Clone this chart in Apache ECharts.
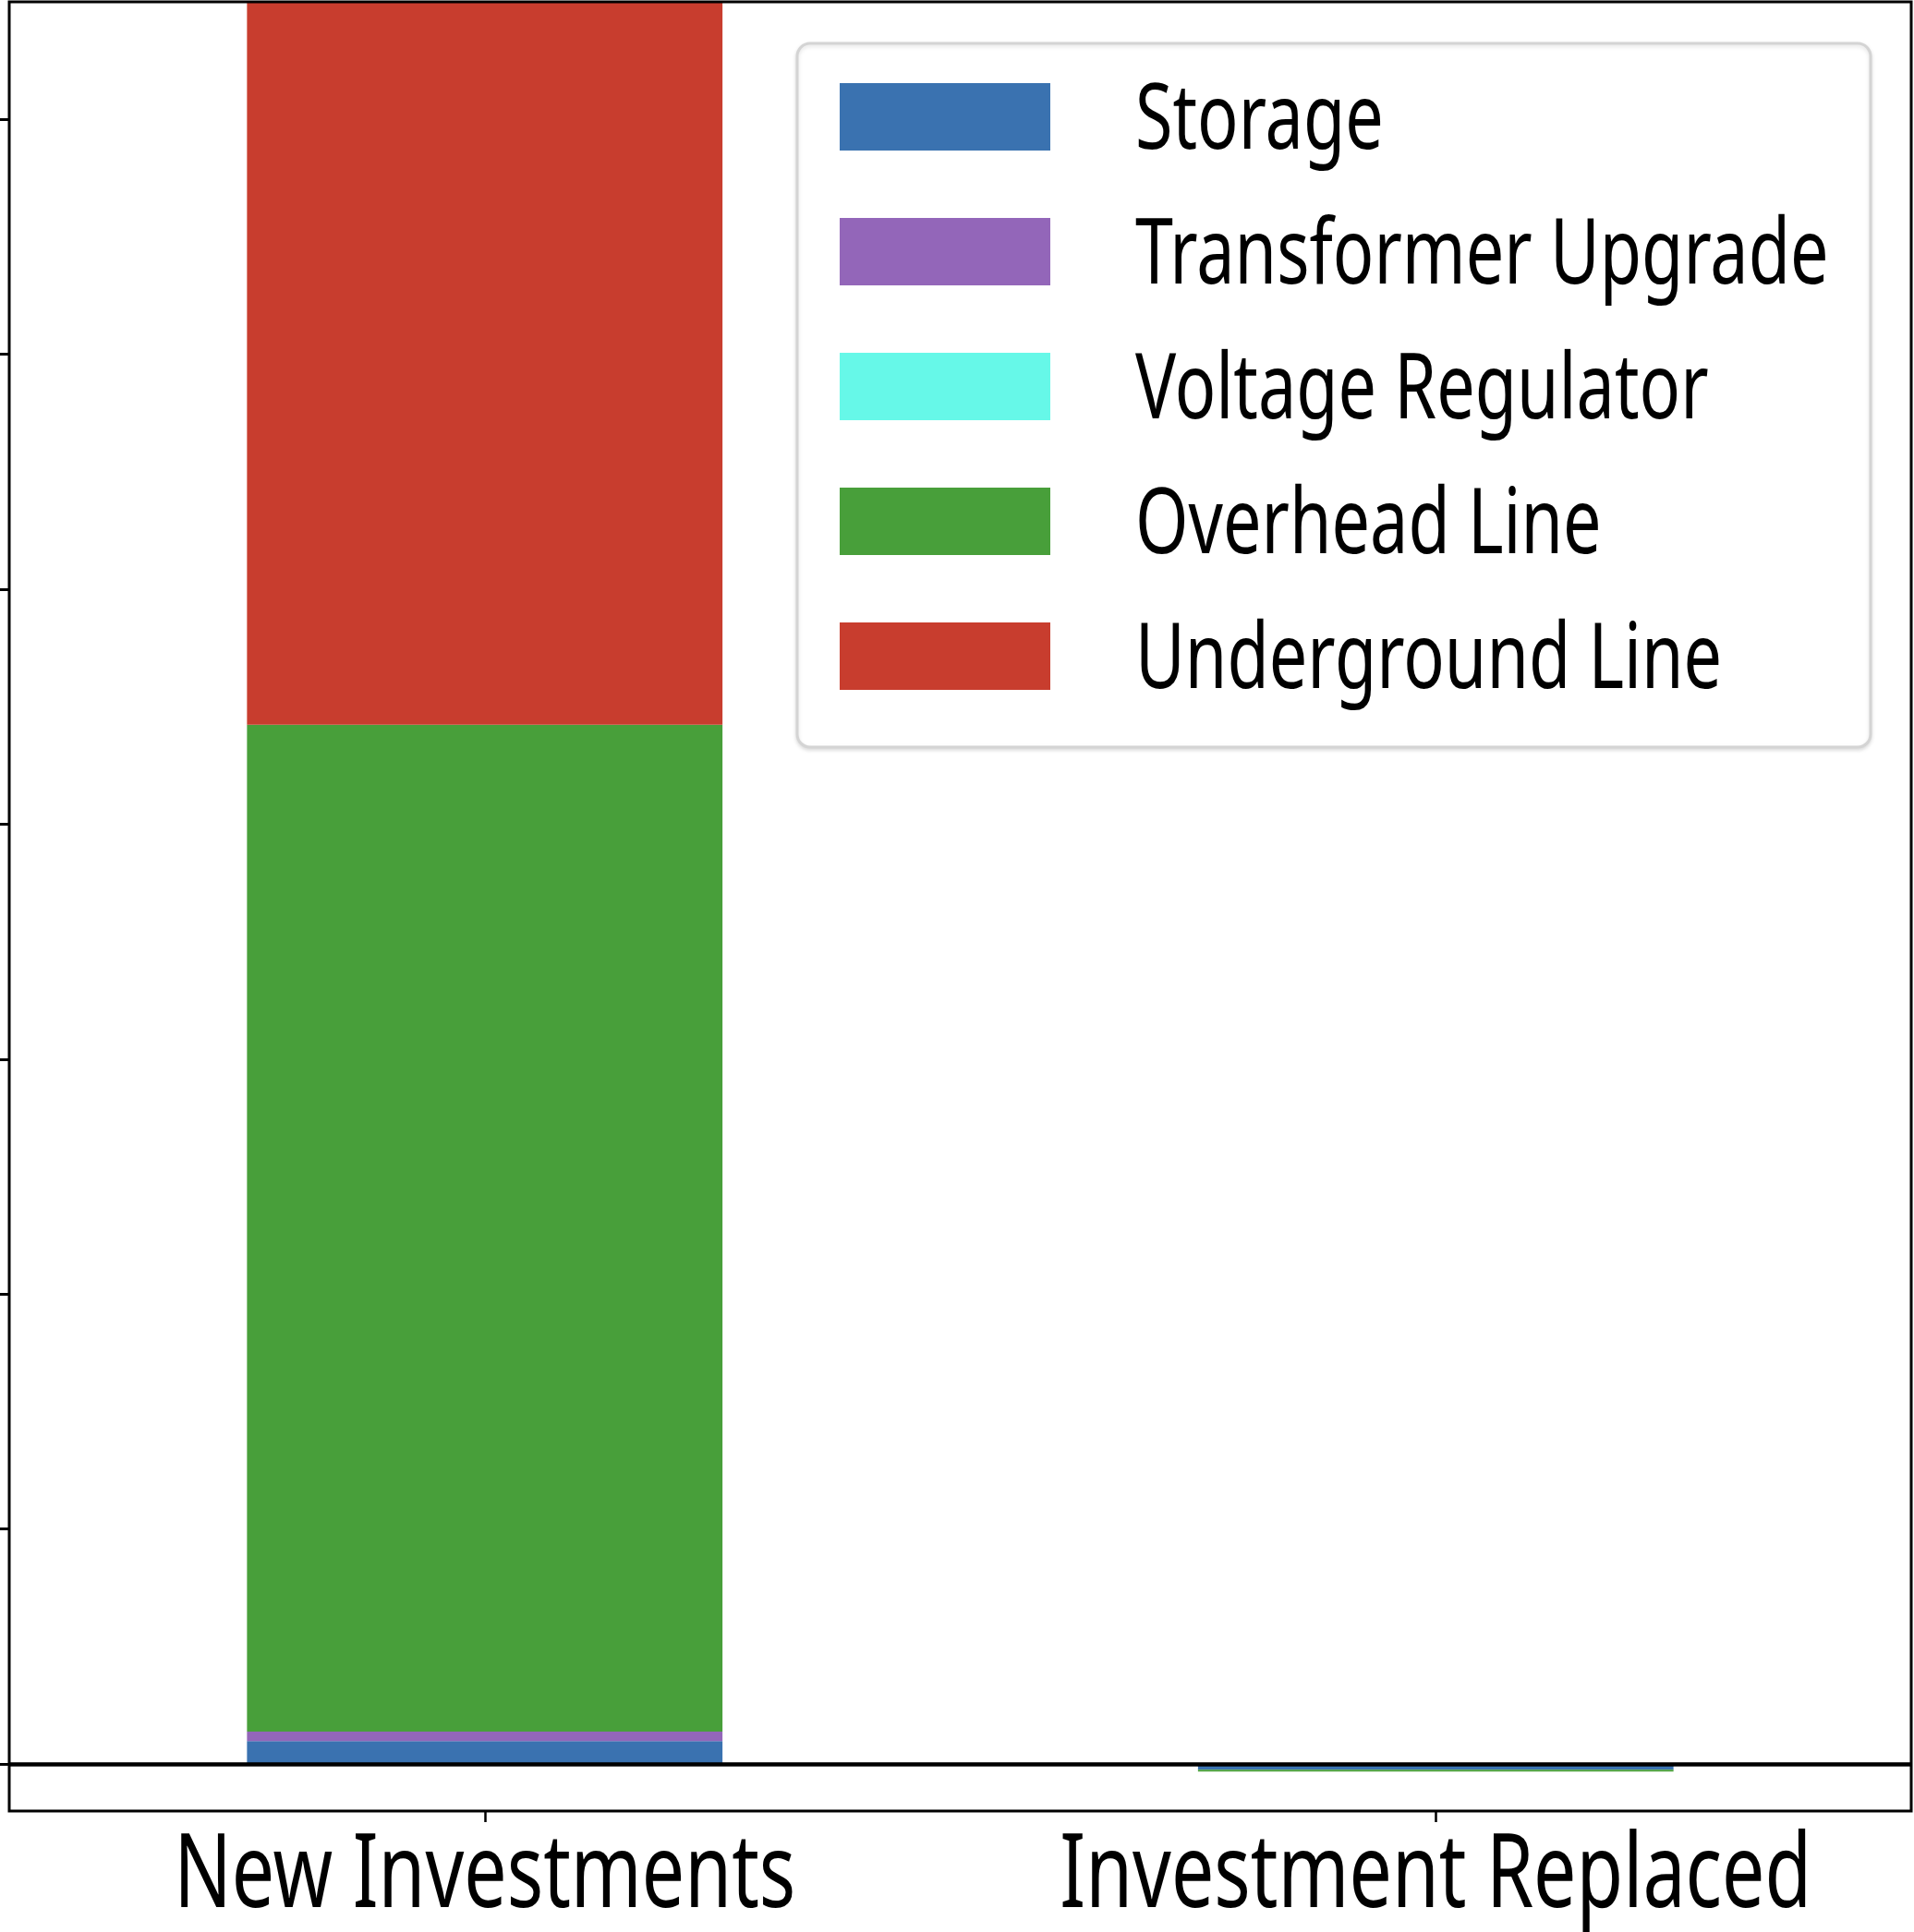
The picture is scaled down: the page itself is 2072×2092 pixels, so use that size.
<!DOCTYPE html>
<html>
<head>
<meta charset="utf-8">
<title>Investments</title>
<script src="https://cdn.jsdelivr.net/npm/echarts@6/dist/echarts.min.js"></script>
<style>
  html, body { margin: 0; padding: 0; background: #fff; }
  #chart { width: 2072px; height: 2092px; }
</style>
</head>
<body>
<div id="chart"></div>
<script>
// categories and stacked values (tick labels are not shown in the picture)
const categories = ['New Investments', 'Investment Replaced'];
const seriesNames = ['Storage', 'Transformer Upgrade', 'Voltage Regulator', 'Overhead Line', 'Underground Line'];
const storage = [0.098, -0.024];
const transformerUpgrade = [0.04, 0];
const voltageRegulator = [0, 0];
const overheadLine = [4.285, -0.008];
const undergroundLine = [3.4, 0];
const yTicks = [0, 1, 2, 3, 4, 5, 6, 7];

const colors = ['#3a72b0', '#9366b9', '#66f8e8', '#489f3a', '#c83d2e'];
const font = '"Noto Sans", "Open Sans", sans-serif';
// no condensed face is installed, so text is squeezed horizontally
const squeezeAxis = 0.735;
const squeezeLegend = 0.752;

const chart = echarts.init(document.getElementById('chart'));

function barSeries(i, data) {
    return {
        name: seriesNames[i],
        type: 'bar',
        stack: 'total',
        barWidth: '50%',
        data: data,
        itemStyle: { color: colors[i], borderWidth: 0 }
    };
}

const series = [
    barSeries(0, storage),
    barSeries(1, transformerUpgrade),
    barSeries(2, voltageRegulator),
    barSeries(3, overheadLine),
    barSeries(4, undergroundLine)
];
// horizontal line at zero
series[0].markLine = {
    silent: true,
    symbol: 'none',
    label: { show: false },
    lineStyle: { color: '#000', width: 4.5, type: 'solid' },
    data: [{ yAxis: 0 }]
};

chart.setOption({
    animation: false,
    backgroundColor: '#fff',
    grid: {
        left: 10,
        right: 3,
        top: 2,
        bottom: 131,
        outerBoundsMode: 'none',
        show: true,
        z: 10,
        borderColor: '#000',
        borderWidth: 3,
        backgroundColor: 'transparent'
    },
    xAxis: {
        type: 'category',
        data: categories,
        axisLine: { show: false, onZero: false },
        axisTick: {
            show: true,
            interval: 0,
            alignWithLabel: true,
            length: 12,
            lineStyle: { color: '#000', width: 2.5 }
        },
        axisLabel: { show: false, interval: 0 }
    },
    yAxis: {
        type: 'value',
        min: -0.2,
        max: 7.5,
        axisLine: { show: false },
        splitLine: { show: false },
        axisLabel: { show: false },
        axisTick: {
            show: true,
            length: 10,
            customValues: yTicks,
            lineStyle: { color: '#000', width: 3 }
        }
    },
    legend: {
        orient: 'vertical',
        left: 863,
        top: 47,
        data: seriesNames,
        icon: 'rect',
        itemWidth: 228,
        itemHeight: 73,
        itemGap: 73,
        padding: [43, 888, 62, 46],
        backgroundColor: '#fff',
        borderColor: '#d4d4d4',
        borderWidth: 3,
        borderRadius: 14,
        shadowColor: 'rgba(0,0,0,0.12)',
        shadowBlur: 4,
        shadowOffsetY: 2,
        itemStyle: { borderWidth: 0 },
        formatter: () => '',
        textStyle: { fontSize: 10 }
    },
    series: series
});

// category labels, centred on the category positions of the axis
const axisTexts = categories.map(name => ({
    type: 'text',
    z: 100,
    x: chart.convertToPixel({ xAxisIndex: 0 }, name),
    y: 1977,
    scaleX: squeezeAxis,
    style: {
        text: name,
        fill: '#000',
        fontFamily: font,
        fontSize: 112,
        align: 'center',
        verticalAlign: 'top',
        textAlign: 'center',
        textVerticalAlign: 'top'
    }
}));

// legend labels beside the swatches
const legendTexts = seriesNames.map((name, i) => ({
    type: 'text',
    z: 100,
    x: 1229,
    y: 126 + 146 * i - 42,
    scaleX: squeezeLegend,
    style: {
        text: name,
        fill: '#000',
        fontFamily: font,
        fontSize: 98,
        align: 'left',
        verticalAlign: 'top',
        textAlign: 'left',
        textVerticalAlign: 'top'
    }
}));

chart.setOption({ graphic: axisTexts.concat(legendTexts) });
</script>
</body>
</html>
